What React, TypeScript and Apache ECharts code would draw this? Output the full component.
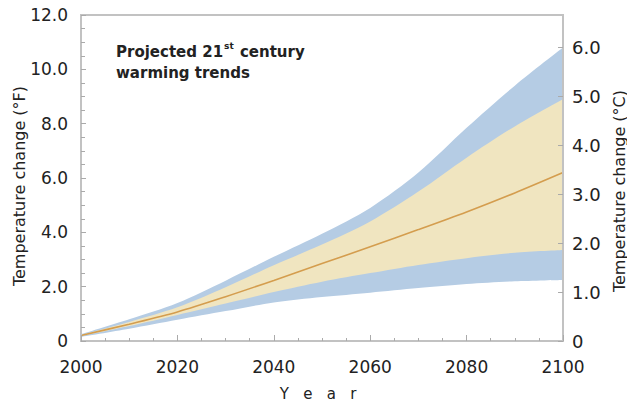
import React, { useEffect, useRef } from "react";
import * as echarts from "echarts";

const years = [2000, 2010, 2020, 2030, 2040, 2050, 2060, 2070, 2080, 2090, 2100];
const blueUpper = [0.25, 0.8, 1.4, 2.22, 3.1, 3.95, 4.9, 6.2, 7.85, 9.4, 10.8];
const tanUpper = [0.22, 0.7, 1.24, 1.98, 2.79, 3.55, 4.4, 5.5, 6.75, 7.9, 8.9];
const center = [0.2, 0.62, 1.07, 1.63, 2.23, 2.85, 3.47, 4.1, 4.75, 5.45, 6.2];
const tanLower = [0.18, 0.55, 0.96, 1.38, 1.8, 2.18, 2.5, 2.8, 3.05, 3.25, 3.35];
const blueLower = [0.15, 0.45, 0.78, 1.1, 1.42, 1.62, 1.78, 1.95, 2.1, 2.2, 2.25];

const titleLine1 = "Projected 21";
const titleSup = "st";
const titleLine1b = " century";
const titleLine2 = "warming trends";
const leftTitle = "Temperature change (°F)";
const rightTitle = "Temperature change (°C)";
const xTitle = "Y   e   a   r";

const BLUE = "#b5cce4";
const TAN = "#f0e5c0";
const LINE = "#d49d4e";
const AXIS = "#c2c2c2";
const TEXT = "#222222";
const FONT = "DejaVu Sans";

const pairs = (vals: number[]) => years.map((y, i) => [y, vals[i]]);

export default function App() {
  const ref = useRef<HTMLDivElement>(null);
  useEffect(() => {
    if (!ref.current) return;
    const chart = echarts.init(ref.current, undefined, { renderer: "svg" });
    const area = (name: string, vals: number[], color: string) => ({
      name,
      type: "line",
      data: pairs(vals),
      smooth: 0.3,
      symbol: "none",
      lineStyle: { width: 0 },
      areaStyle: { color, opacity: 1 },
      z: 2,
    });
    chart.setOption({
      animation: false,
      backgroundColor: "#ffffff",
      grid: {
        left: 81,
        right: 64,
        top: 15,
        bottom: 64,
        show: true,
        borderColor: AXIS,
        borderWidth: 2,
        backgroundColor: "transparent",
      },
      xAxis: {
        type: "value",
        min: 2000,
        max: 2100,
        interval: 20,
        z: 10,
        axisLine: { show: true, lineStyle: { color: AXIS, width: 2 } },
        axisTick: { show: true, inside: true, length: 6, lineStyle: { color: "#aaaaaa" } },
        minorTick: { show: true, splitNumber: 4, length: 3, lineStyle: { color: "#aaaaaa" } },
        splitLine: { show: false },
        axisLabel: {
          margin: 17,
          color: TEXT,
          fontFamily: FONT,
          fontSize: 17,
          formatter: (v: number) => String(v),
        },
      },
      yAxis: [
        {
          type: "value",
          min: 0,
          max: 12,
          interval: 2,
          z: 10,
          axisLine: { show: true, lineStyle: { color: AXIS, width: 2 } },
          axisTick: { show: true, inside: true, length: 5, lineStyle: { color: "#aaaaaa" } },
          minorTick: { show: true, splitNumber: 4, length: 4, lineStyle: { color: "#aaaaaa" } },
          splitLine: { show: false },
          axisLabel: {
            margin: 13,
            color: TEXT,
            fontFamily: FONT,
            fontSize: 17,
            formatter: (v: number) => (v === 0 ? "0" : v.toFixed(1)),
          },
        },
        {
          type: "value",
          min: 0,
          max: 12 / 1.8,
          interval: 1,
          position: "right",
          z: 10,
          axisLine: { show: true, lineStyle: { color: AXIS, width: 2 } },
          axisTick: { show: true, inside: true, length: 5, lineStyle: { color: "#aaaaaa" } },
          splitLine: { show: false },
          axisLabel: {
            margin: 9,
            color: TEXT,
            fontFamily: FONT,
            fontSize: 18,
            showMaxLabel: false,
            formatter: (v: number) =>
              Math.abs(v - Math.round(v)) > 1e-6 ? "" : v === 0 ? "0" : v.toFixed(1),
          },
        },
      ],
      series: [
        area("blueUpper", blueUpper, BLUE),
        area("tanUpper", tanUpper, TAN),
        area("tanLower", tanLower, BLUE),
        area("blueLower", blueLower, "#ffffff"),
        {
          name: "center",
          type: "line",
          data: pairs(center),
          smooth: 0.3,
          symbol: "none",
          lineStyle: { color: LINE, width: 1.6 },
          z: 3,
        },
      ],
      graphic: [
        {
          type: "text",
          left: 116,
          top: 41,
          style: {
            text: `{a|${titleLine1}}{s|${titleSup}}{a|${titleLine1b}}\n{a|${titleLine2}}`,
            rich: {
              a: { fontFamily: FONT, fontWeight: "bold", fontSize: 15, fill: TEXT, lineHeight: 21 },
              s: {
                fontFamily: FONT,
                fontWeight: "bold",
                fontSize: 9,
                fill: TEXT,
                lineHeight: 21,
                verticalAlign: "top",
                padding: [0, 1, 6, 1],
              },
            },
          },
        },
        {
          type: "text",
          x: 19,
          y: 186,
          rotation: Math.PI / 2,
          style: {
            text: leftTitle,
            fontFamily: FONT,
            fontSize: 16,
            fill: TEXT,
            align: "center",
            verticalAlign: "middle",
          },
        },
        {
          type: "text",
          x: 619,
          y: 191,
          rotation: Math.PI / 2,
          style: {
            text: rightTitle,
            fontFamily: FONT,
            fontSize: 16,
            fill: TEXT,
            align: "center",
            verticalAlign: "middle",
          },
        },
        {
          type: "text",
          x: 318,
          y: 394,
          style: {
            text: xTitle,
            fontFamily: FONT,
            fontSize: 15,
            fill: TEXT,
            align: "center",
            verticalAlign: "middle",
          },
        },
      ],
    });
    return () => chart.dispose();
  }, []);
  return <div ref={ref} style={{ width: 627, height: 405, position: "absolute", left: 0, top: 0 }} />;
}
